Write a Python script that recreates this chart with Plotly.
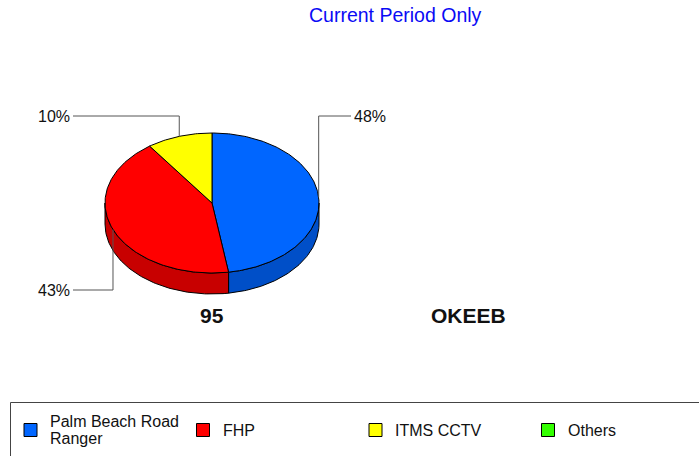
import numpy as np
import plotly.graph_objects as go

# Incident detections by source for the current period
categories = ["Palm Beach Road Ranger", "FHP", "ITMS CCTV", "Others"]
legend_labels = ["Palm Beach Road<br>Ranger", "FHP", "ITMS CCTV", "Others"]
counts = [48, 43, 10, 0]
top_colors = ["#0066FF", "#FF0000", "#FFFF00", "#33FF00"]
side_colors = ["#004FC8", "#C80000", "#C8C800", "#28C800"]

title_text = "Current Period Only"
route_label = "95"
station_label = "OKEEB"

W, H = 699, 456
FONT = "Liberation Sans, Arial, sans-serif"

# elliptical "3D" pie geometry (pixel space)
CX, CY = 212, 203
RX, RY = 107, 70
DEPTH = 21


def pt(theta, dy=0.0):
    t = np.radians(theta)
    return CX + RX * np.sin(t), CY - RY * np.cos(t) + dy


def arc(a1, a2, dy=0.0):
    n = max(int(abs(a2 - a1)) + 2, 3)
    th = np.linspace(a1, a2, n)
    return pt(th, dy)


total = sum(counts)
fig = go.Figure()

# slice angle spans, clockwise from 12 o'clock
spans = []
start = 0.0
for c in counts:
    sweep = 360.0 * c / total
    spans.append((start, start + sweep))
    start += sweep

# side walls (visible front half: 90..270 degrees)
for (a1, a2), col in zip(spans, side_colors):
    lo, hi = max(a1, 90.0), min(a2, 270.0)
    if hi <= lo:
        continue
    xt, yt = arc(lo, hi)
    xb, yb = arc(hi, lo, DEPTH)
    xs = np.concatenate([xt, xb, xt[:1]])
    ys = np.concatenate([yt, yb, yt[:1]])
    fig.add_trace(go.Scatter(x=xs, y=ys, mode="lines", fill="toself",
                             fillcolor=col, line=dict(color="black", width=1),
                             hoverinfo="skip", showlegend=False))

# top faces
for (a1, a2), col, c in zip(spans, top_colors, counts):
    if c == 0:
        continue
    xa, ya = arc(a1, a2)
    xs = np.concatenate([[CX], xa, [CX]])
    ys = np.concatenate([[CY], ya, [CY]])
    fig.add_trace(go.Scatter(x=xs, y=ys, mode="lines", fill="toself",
                             fillcolor=col, line=dict(color="black", width=1),
                             hoverinfo="skip", showlegend=False))

annotations = []
shapes = []

# percentage labels with elbow leader lines
LABEL_DY = 87
LABEL_DX = 139
for (a1, a2), c in zip(spans, counts):
    if c == 0:
        continue
    pct = int(round(100.0 * c / total))
    mid = (a1 + a2) / 2.0
    ax, ay = pt(mid)
    ly = CY - LABEL_DY if ay < CY else CY + LABEL_DY
    right = ax >= CX
    lx = CX + LABEL_DX if right else CX - LABEL_DX
    fig.add_trace(go.Scatter(x=[ax, ax, lx], y=[ay, ly, ly], mode="lines",
                             line=dict(color="#555555", width=1),
                             hoverinfo="skip", showlegend=False))
    annotations.append(dict(x=lx + (1 if right else -1), y=ly, text=f"{pct}%",
                            xanchor="left" if right else "right", yanchor="middle",
                            showarrow=False, font=dict(family=FONT, size=16, color="#111111")))

# title and captions
annotations.append(dict(x=395.5, y=15, text=title_text, showarrow=False,
                        xanchor="center", yanchor="middle",
                        font=dict(family=FONT, size=19.5, color="#0A0AF5")))
annotations.append(dict(x=211.5, y=315, text=f"<b>{route_label}</b>", showarrow=False,
                        xanchor="center", yanchor="middle",
                        font=dict(family=FONT, size=21, color="#111111")))
annotations.append(dict(x=468, y=315, text=f"<b>{station_label}</b>", showarrow=False,
                        xanchor="center", yanchor="middle",
                        font=dict(family=FONT, size=21, color="#111111")))

# legend frame and entries
shapes.append(dict(type="rect", xref="x", yref="y", x0=10.5, y0=402.5, x1=710, y1=470,
                   line=dict(color="#444444", width=1), fillcolor="rgba(0,0,0,0)"))
LEG_X0, LEG_STEP, LEG_Y = 24, 172.5, 430
for i, (lab, col) in enumerate(zip(legend_labels, top_colors)):
    sx = LEG_X0 + i * LEG_STEP
    shapes.append(dict(type="rect", xref="x", yref="y", x0=sx, y0=LEG_Y - 6.5,
                       x1=sx + 13, y1=LEG_Y + 6.5, fillcolor=col,
                       line=dict(color="black", width=1)))
    lines = lab.split("<br>")
    n = len(lines)
    for j, ln in enumerate(lines):
        ty = LEG_Y + (j - (n - 1) / 2.0) * 17
        annotations.append(dict(x=sx + 24, y=ty, text=ln, showarrow=False,
                                xanchor="left", yanchor="middle",
                                font=dict(family=FONT, size=16, color="#111111")))

fig.update_layout(
    width=W, height=H,
    margin=dict(l=0, r=0, t=0, b=0),
    paper_bgcolor="white", plot_bgcolor="white",
    showlegend=False,
    xaxis=dict(range=[0, W], visible=False, fixedrange=True),
    yaxis=dict(range=[H, 0], visible=False, fixedrange=True),
    annotations=annotations,
    shapes=shapes,
)

fig.write_html("out.html")
